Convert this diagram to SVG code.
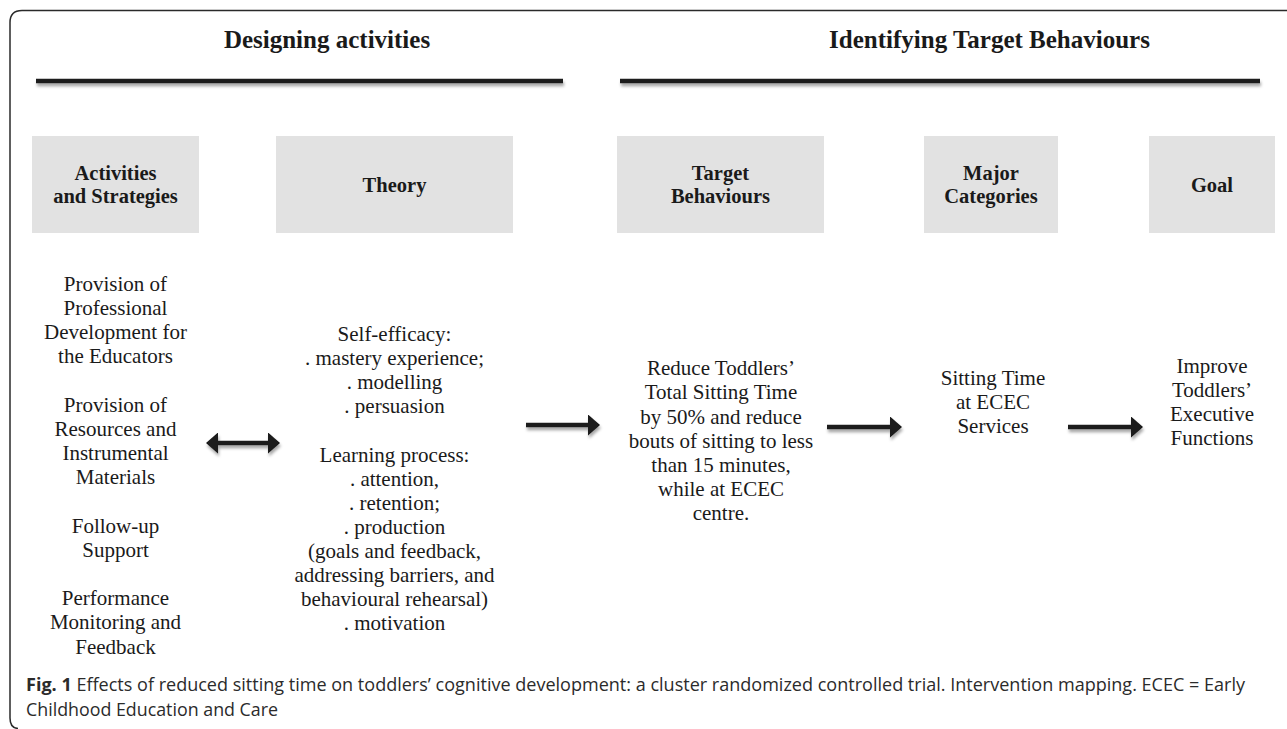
<svg xmlns="http://www.w3.org/2000/svg" width="1287" height="729" viewBox="0 0 1287 729">
  <style>
    .frame { fill: none; stroke: #2a2a2a; stroke-width: 1.5; }
    .head { font-family: "Liberation Serif", "Times New Roman", serif; font-weight: bold; font-size: 25px; fill: #1a1a1a; text-anchor: middle; }
    .rule { stroke: #1a1a1a; stroke-width: 4.5; }
    .box { fill: #e2e2e2; }
    .btxt { font-family: "Liberation Serif", "Times New Roman", serif; font-weight: bold; font-size: 20.5px; fill: #1a1a1a; text-anchor: middle; }
    .body { font-family: "Liberation Serif", "Times New Roman", serif; font-size: 21px; fill: #1a1a1a; text-anchor: middle; }
    .conn { stroke: #1a1a1a; stroke-width: 4.5; fill: none; }
    .cap { font-family: "Open Sans", "Noto Sans", "Liberation Sans", sans-serif; font-size: 18px; fill: #2b2b2b; }
    .capb { font-weight: bold; }
  </style>
  <defs>
    <filter id="shadow" filterUnits="userSpaceOnUse" x="0" y="0" width="1287" height="729">
      <feDropShadow dx="1" dy="3" stdDeviation="1.5" flood-color="#000" flood-opacity="0.35"/>
    </filter>
    <marker id="ah" markerUnits="userSpaceOnUse" markerWidth="12" markerHeight="21" refX="6" refY="10.5" orient="auto-start-reverse">
      <path d="M0,0 L12,10.5 L0,21 Z" fill="#1a1a1a"/>
    </marker>
  </defs>

  <rect width="1287" height="729" fill="#ffffff"/>

  <path class="frame" d="M1287,10.5 H22 Q10,10.5 10,22.5 V718 Q10,728 18,728.5"/>

  <g id="section-designing">
    <text class="head" x="327" y="48">Designing activities</text>
    <line class="rule" x1="36" y1="81" x2="563" y2="81" filter="url(#shadow)"/>
  </g>
  <g id="section-identifying">
    <text class="head" x="989.5" y="48">Identifying Target Behaviours</text>
    <line class="rule" x1="620" y1="81" x2="1260" y2="81" filter="url(#shadow)"/>
  </g>

  <g id="node-activities">
    <rect class="box" x="32" y="136" width="167" height="97"/>
    <text class="btxt" x="115.5" y="180">Activities</text>
    <text class="btxt" x="115.5" y="203">and Strategies</text>
    <text class="body" x="115.5" y="290.5">Provision of</text>
    <text class="body" x="115.5" y="314.7">Professional</text>
    <text class="body" x="115.5" y="338.9">Development for</text>
    <text class="body" x="115.5" y="363.1">the Educators</text>
    <text class="body" x="115.5" y="411.5">Provision of</text>
    <text class="body" x="115.5" y="435.7">Resources and</text>
    <text class="body" x="115.5" y="459.9">Instrumental</text>
    <text class="body" x="115.5" y="484.1">Materials</text>
    <text class="body" x="115.5" y="532.5">Follow-up</text>
    <text class="body" x="115.5" y="556.7">Support</text>
    <text class="body" x="115.5" y="605.1">Performance</text>
    <text class="body" x="115.5" y="629.3">Monitoring and</text>
    <text class="body" x="115.5" y="653.5">Feedback</text>
  </g>

  <g id="node-theory">
    <rect class="box" x="276" y="136" width="237" height="97"/>
    <text class="btxt" x="394.5" y="192">Theory</text>
    <text class="body" x="394.5" y="341">Self-efficacy:</text>
    <text class="body" x="394.5" y="365.1">. mastery experience;</text>
    <text class="body" x="394.5" y="389.2">. modelling</text>
    <text class="body" x="394.5" y="413.3">. persuasion</text>
    <text class="body" x="394.5" y="461.5">Learning process:</text>
    <text class="body" x="394.5" y="485.6">. attention,</text>
    <text class="body" x="394.5" y="509.7">. retention;</text>
    <text class="body" x="394.5" y="533.8">. production</text>
    <text class="body" x="394.5" y="557.9">(goals and feedback,</text>
    <text class="body" x="394.5" y="582">addressing barriers, and</text>
    <text class="body" x="394.5" y="606.1">behavioural rehearsal)</text>
    <text class="body" x="394.5" y="630.2">. motivation</text>
  </g>

  <g id="node-target">
    <rect class="box" x="617" y="136" width="207" height="97"/>
    <text class="btxt" x="720.5" y="180">Target</text>
    <text class="btxt" x="720.5" y="203">Behaviours</text>
    <text class="body" x="721" y="375.3">Reduce Toddlers’</text>
    <text class="body" x="721" y="399.4">Total Sitting Time</text>
    <text class="body" x="721" y="423.5">by 50% and reduce</text>
    <text class="body" x="721" y="447.6">bouts of sitting to less</text>
    <text class="body" x="721" y="471.7">than 15 minutes,</text>
    <text class="body" x="721" y="495.8">while at ECEC</text>
    <text class="body" x="721" y="519.9">centre.</text>
  </g>

  <g id="node-categories">
    <rect class="box" x="924" y="136" width="134" height="97"/>
    <text class="btxt" x="991" y="180">Major</text>
    <text class="btxt" x="991" y="203">Categories</text>
    <text class="body" x="993" y="385">Sitting Time</text>
    <text class="body" x="993" y="409">at ECEC</text>
    <text class="body" x="993" y="433">Services</text>
  </g>

  <g id="node-goal">
    <rect class="box" x="1149" y="136" width="126" height="97"/>
    <text class="btxt" x="1212" y="192">Goal</text>
    <text class="body" x="1212" y="373">Improve</text>
    <text class="body" x="1212" y="397">Toddlers’</text>
    <text class="body" x="1212" y="421">Executive</text>
    <text class="body" x="1212" y="445">Functions</text>
  </g>

  <g id="connectors" filter="url(#shadow)">
    <line class="conn" x1="212" y1="443" x2="274" y2="443" marker-start="url(#ah)" marker-end="url(#ah)"/>
    <line class="conn" x1="526" y1="425" x2="594" y2="425" marker-end="url(#ah)"/>
    <line class="conn" x1="827" y1="427" x2="896" y2="427" marker-end="url(#ah)"/>
    <line class="conn" x1="1068" y1="427" x2="1137" y2="427" marker-end="url(#ah)"/>
  </g>

  <g id="caption">
    <text class="cap" x="26" y="691" textLength="1219" lengthAdjust="spacingAndGlyphs"><tspan class="capb">Fig. 1</tspan> Effects of reduced sitting time on toddlers’ cognitive development: a cluster randomized controlled trial. Intervention mapping. ECEC = Early</text>
    <text class="cap" x="26" y="716" textLength="252" lengthAdjust="spacingAndGlyphs">Childhood Education and Care</text>
  </g>
</svg>
